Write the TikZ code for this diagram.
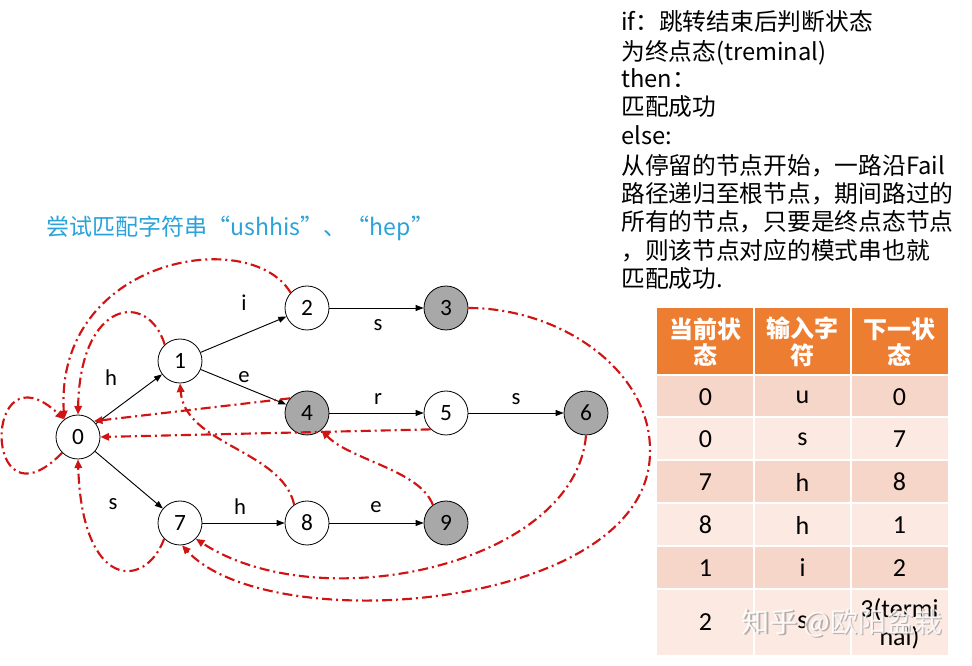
\documentclass[tikz,border=0pt]{standalone}
\usepackage{fontspec}
\setmainfont{Carlito}
\newfontfamily\cjk{Noto Sans CJK SC}
\usetikzlibrary{arrows.meta}

\definecolor{failred}{RGB}{208,20,20}
\definecolor{titleblue}{RGB}{42,163,219}
\definecolor{termgray}{RGB}{168,168,168}
\definecolor{headorange}{RGB}{237,125,49}
\definecolor{banddark}{RGB}{246,214,201}
\definecolor{bandlight}{RGB}{251,233,226}

\begin{document}
\begin{tikzpicture}[x=0.75pt,y=-0.75pt,
  state/.style={circle,draw,line width=0.6pt,minimum size=33pt,inner sep=0pt,
    font=\fontsize{17.5}{17.5}\selectfont},
  term/.style={state,fill=termgray},
  goto/.style={draw,line width=0.7pt,-{Triangle[length=6pt,width=4.5pt]}},
  fail/.style={draw=failred,line width=1.6pt,
    dash pattern=on 7.5pt off 3pt on 1.5pt off 3pt,
    -{Triangle[length=6.5pt,width=5.5pt]}},
  edgelbl/.style={font=\fontsize{17}{17}\selectfont,inner sep=0pt},
  note/.style={anchor=base west,inner sep=0pt,font=\cjk\fontsize{17.8}{20}\selectfont},
  headcell/.style={text=white,align=center,inner sep=0pt,
    font=\cjk\bfseries\fontsize{18}{20}\selectfont},
  bodycell/.style={inner sep=0pt,align=center,font=\fontsize{19.5}{21}\selectfont}
]
\fill[white] (0,0) rectangle (972,666);
\useasboundingbox (0,0) rectangle (972,666);

% ---------- title ----------
\node[anchor=base west,inner sep=0pt,text=titleblue,
  font=\cjk\fontsize{17.3}{20}\selectfont] (title) at (46,236)
  {尝试匹配字符串“ushhis”、“hep”};

% ---------- automaton states ----------
\node[state] (n0) at (78,437) {0};
\node[state] (n1) at (180,361) {1};
\node[state] (n2) at (307,308) {2};
\node[term]  (n3) at (446,308) {3};
\node[term]  (n4) at (307,413) {4};
\node[state] (n5) at (446,413) {5};
\node[term]  (n6) at (586,413) {6};
\node[state] (n7) at (180,523) {7};
\node[state] (n8) at (307,523) {8};
\node[term]  (n9) at (446,523) {9};

% ---------- goto transitions ----------
\draw[goto] (n0) -- (n1);
\draw[goto] (n1) -- (n2);
\draw[goto] (n1) -- (n4);
\draw[goto] (n2) -- (n3);
\draw[goto] (n4) -- (n5);
\draw[goto] (n5) -- (n6);
\draw[goto] (n0) -- (n7);
\draw[goto] (n7) -- (n8);
\draw[goto] (n8) -- (n9);

\node[edgelbl] (l01) at (111,378) {h};
\node[edgelbl] (l12) at (244,303) {i};
\node[edgelbl] (l14) at (244,377) {e};
\node[edgelbl] (l23) at (378,325) {s};
\node[edgelbl] (l45) at (378,399) {r};
\node[edgelbl] (l56) at (516,399) {s};
\node[edgelbl] (l07) at (113,504) {s};
\node[edgelbl] (l78) at (240,507) {h};
\node[edgelbl] (l89) at (376,507) {e};

% ---------- fail links ----------
\coordinate (bend37) at (650,453);
\draw[fail] (n0.225) .. controls (-18,535) and (-18,342) .. (n0.128);
\draw[fail] (n1.133) .. controls (148,290) and (80,300) .. (n0.90);
\draw[fail] (n2.137) .. controls (250,225) and (55,258) .. (n0.128);
\draw[fail] (n4.139) -- (n0.45);
\draw[fail] (n5.227) -- (n0.0);
\draw[fail] (n3.0) .. controls (560,308) and (652,370) .. (bend37)
  .. controls (648,610) and (270,640) .. (n7.275);
\draw[fail] (n6.270) .. controls (575,565) and (320,620) .. (n7.315);
\draw[fail] (n7.225) .. controls (145,590) and (82,590) .. (n0.270);
\draw[fail] (n8.125) .. controls (282,450) and (185,445) .. (n1.270);
\draw[fail] (n9.126) .. controls (420,470) and (350,460) .. (n4.310);

% ---------- matching rule ----------
\node[note] (r1)  at (621,31)  {if：跳转结束后判断状态};
\node[note] (r2)  at (621,61)  {为终点态(treminal)};
\node[note] (r3)  at (621,88)  {then：};
\node[note] (r4)  at (621,116) {匹配成功};
\node[note] (r5)  at (621,145) {else:};
\node[note] (r6)  at (621,175) {从停留的节点开始，一路沿Fail};
\node[note] (r7)  at (621,203) {路径递归至根节点，期间路过的};
\node[note] (r8)  at (621,231) {所有的节点，只要是终点态节点};
\node[note] (r9)  at (621,260) {，则该节点对应的模式串也就};
\node[note] (r10) at (621,288) {匹配成功.};

% ---------- transition table ----------
\fill[headorange] (657,308) rectangle (948,374);
\fill[banddark]  (657,376) rectangle (948,417);
\fill[bandlight] (657,417) rectangle (948,460);
\fill[banddark]  (657,460) rectangle (948,503);
\fill[bandlight] (657,503) rectangle (948,546);
\fill[banddark]  (657,546) rectangle (948,589);
\fill[bandlight] (657,589) rectangle (948,655);
\draw[white,line width=1.5pt] (754,308) -- (754,655) (851,308) -- (851,655);
\draw[white,line width=1.2pt] (657,417) -- (948,417) (657,460) -- (948,460)
  (657,503) -- (948,503) (657,546) -- (948,546) (657,589) -- (948,589);

\node[headcell] (h1) at (705.5,342) {当前状\\态};
\node[headcell] (h2) at (802.5,342) {输入字\\符};
\node[headcell] (h3) at (899.5,342) {下一状\\态};

\node[bodycell] (c11) at (705.5,397) {0};
\node[bodycell] (c12) at (802.5,397) {u};
\node[bodycell] (c13) at (899.5,397) {0};
\node[bodycell] (c21) at (705.5,439) {0};
\node[bodycell] (c22) at (802.5,439) {s};
\node[bodycell] (c23) at (899.5,439) {7};
\node[bodycell] (c31) at (705.5,482) {7};
\node[bodycell] (c32) at (802.5,482) {h};
\node[bodycell] (c33) at (899.5,482) {8};
\node[bodycell] (c41) at (705.5,525) {8};
\node[bodycell] (c42) at (802.5,525) {h};
\node[bodycell] (c43) at (899.5,525) {1};
\node[bodycell] (c51) at (705.5,568) {1};
\node[bodycell] (c52) at (802.5,568) {i};
\node[bodycell] (c53) at (899.5,568) {2};
\node[bodycell] (c61) at (705.5,622) {2};
\node[bodycell] (c62) at (802.5,622) {s};
\node[bodycell] (c63) at (899.5,624) {3(termi\\nal)};

% ---------- watermark ----------
\node[inner sep=0pt,text=black!55,opacity=0.5,font=\cjk\fontsize{21}{21}\selectfont]
  (wmshadow) at (843.5,624.5) {知乎 @欧阳盆栽};
\node[inner sep=0pt,text=white,opacity=0.85,font=\cjk\fontsize{21}{21}\selectfont]
  (wm) at (842,623) {知乎 @欧阳盆栽};
\end{tikzpicture}
\end{document}
